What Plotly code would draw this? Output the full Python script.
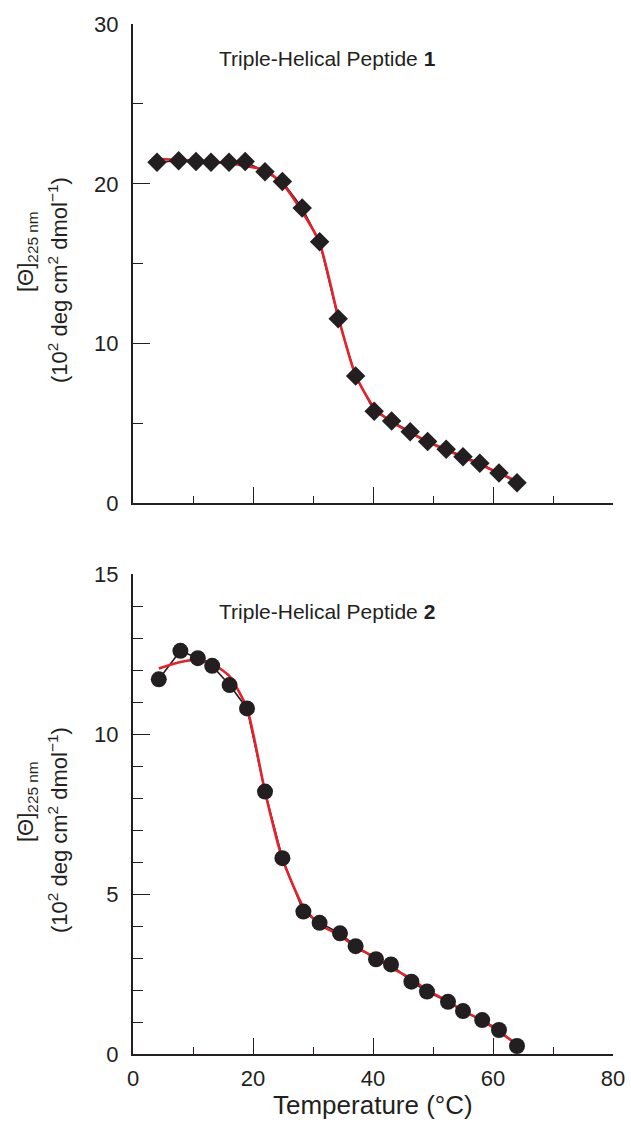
import plotly.graph_objects as go

# ---- data ----
temp1 = [4.0, 7.6, 10.5, 13.0, 16.0, 18.7, 22.0, 24.9, 28.2, 31.1, 34.2, 37.1, 40.2, 43.1, 46.2, 49.1, 52.2, 55.0, 57.8, 61.0, 64.0]
theta1 = [21.35, 21.45, 21.39, 21.35, 21.35, 21.39, 20.76, 20.14, 18.49, 16.38, 11.55, 7.98, 5.77, 5.16, 4.49, 3.87, 3.39, 2.93, 2.52, 1.9, 1.3]
fit1 = [21.55, 21.5, 21.43, 21.36, 21.27, 21.12, 20.85, 20.0, 18.25, 16.3, 11.7, 8.0, 6.0, 5.1, 4.45, 3.85, 3.35, 2.9, 2.45, 1.9, 1.4]

temp2 = [4.3, 7.9, 10.8, 13.2, 16.1, 19.0, 22.0, 24.9, 28.4, 31.1, 34.5, 37.1, 40.5, 43.0, 46.4, 49.0, 52.5, 55.0, 58.2, 61.0, 64.0]
theta2 = [11.71, 12.60, 12.37, 12.13, 11.53, 10.80, 8.20, 6.12, 4.45, 4.10, 3.77, 3.37, 2.96, 2.80, 2.26, 1.95, 1.63, 1.34, 1.06, 0.75, 0.25]
fit2 = [12.05, 12.25, 12.33, 12.2, 11.8, 10.8, 8.2, 6.1, 4.6, 4.05, 3.7, 3.35, 3.0, 2.7, 2.35, 2.0, 1.65, 1.35, 1.05, 0.7, 0.3]

x_ticks = [0, 20, 40, 60, 80]
titles = ["Triple-Helical Peptide <b>1</b>", "Triple-Helical Peptide <b>2</b>"]
ytitle_1 = "[Θ]<sub>225 nm</sub>"
ytitle_2 = "(10<sup>2</sup> deg cm<sup>2</sup> dmol<sup>−1</sup>)"
xtitle = "Temperature (°C)"

INK = "#231f20"
RED = "#e8202a"
FONT = "Liberation Sans, Arial, sans-serif"

fig = go.Figure()

def add_panel(t, v, f, xa, ya, symbol, size):
    fig.add_trace(go.Scatter(x=t, y=v, mode="lines", line=dict(color=INK, width=1.6),
                             xaxis=xa, yaxis=ya, showlegend=False, hoverinfo="skip"))
    fig.add_trace(go.Scatter(x=t, y=f, mode="lines", line=dict(color=RED, width=2.6, shape="spline", smoothing=0.6),
                             xaxis=xa, yaxis=ya, showlegend=False, hoverinfo="skip"))
    fig.add_trace(go.Scatter(x=t, y=v, mode="markers",
                             marker=dict(symbol=symbol, size=size, color=INK, line=dict(width=0)),
                             xaxis=xa, yaxis=ya, showlegend=False))

add_panel(temp1, theta1, fit1, "x", "y", "diamond", 15)
add_panel(temp2, theta2, fit2, "x2", "y2", "circle", 16)

common_axis = dict(showline=True, linecolor=INK, linewidth=2.2, showgrid=False, zeroline=False,
                   ticks="inside", tickcolor=INK, tickwidth=1.4,
                   tickfont=dict(family=FONT, size=22, color=INK))

fig.update_layout(
    width=631, height=1125,
    margin=dict(l=133, r=18, t=24, b=71, autoexpand=False),
    paper_bgcolor="white", plot_bgcolor="white",
    font=dict(family=FONT, color=INK),
    xaxis=dict(domain=[0, 1], anchor="y", range=[0, 80], tickvals=x_ticks, showticklabels=False,
               ticklen=16, minor=dict(dtick=10, tick0=0, ticklen=7, ticks="inside", tickcolor=INK, tickwidth=1.2),
               **common_axis),
    yaxis=dict(domain=[0.5345, 1], anchor="x", range=[0, 30], dtick=10, ticklen=17,
               ticklabelstandoff=8,
               minor=dict(dtick=5, tick0=0, ticklen=10, ticks="inside", tickcolor=INK, tickwidth=1.2),
               **common_axis),
    xaxis2=dict(domain=[0, 1], anchor="y2", range=[0, 80], tickvals=x_ticks, ticklen=16,
                ticklabelstandoff=3,
                minor=dict(dtick=10, tick0=0, ticklen=7, ticks="inside", tickcolor=INK, tickwidth=1.2),
                **common_axis),
    yaxis2=dict(domain=[0, 0.466], anchor="x2", range=[0, 15], dtick=5, ticklen=17,
                ticklabelstandoff=8,
                minor=dict(dtick=1, tick0=0, ticklen=10, ticks="inside", tickcolor=INK, tickwidth=1.2),
                **common_axis),
)

def px_x(p):
    return (p - 133) / 480

def px_y(p):
    return (1054 - p) / 1030

ann = []
ann.append(dict(text=titles[0], xref="x", yref="paper", x=32.4, y=px_y(58), showarrow=False,
                xanchor="center", yanchor="middle", font=dict(family=FONT, size=21, color=INK)))
ann.append(dict(text=titles[1], xref="x2", yref="paper", x=32.4, y=px_y(611), showarrow=False,
                xanchor="center", yanchor="middle", font=dict(family=FONT, size=21, color=INK)))
for off in [0, 550]:
    ann.append(dict(text=ytitle_1, xref="paper", yref="paper", x=px_x(27), y=px_y(252 + off),
                    showarrow=False, textangle=-90, xanchor="center", yanchor="middle",
                    font=dict(family=FONT, size=22, color=INK)))
    ann.append(dict(text=ytitle_2, xref="paper", yref="paper", x=px_x(58), y=px_y(280 + off),
                    showarrow=False, textangle=-90, xanchor="center", yanchor="middle",
                    font=dict(family=FONT, size=22, color=INK)))
ann.append(dict(text=xtitle, xref="x2", yref="paper", x=40, y=px_y(1105), showarrow=False,
                xanchor="center", yanchor="middle", font=dict(family=FONT, size=26, color=INK)))
fig.update_layout(annotations=ann)

fig.write_html("out.html", config={"displayModeBar": False},
               post_script="document.body.style.margin='0';document.body.style.overflow='hidden';")
